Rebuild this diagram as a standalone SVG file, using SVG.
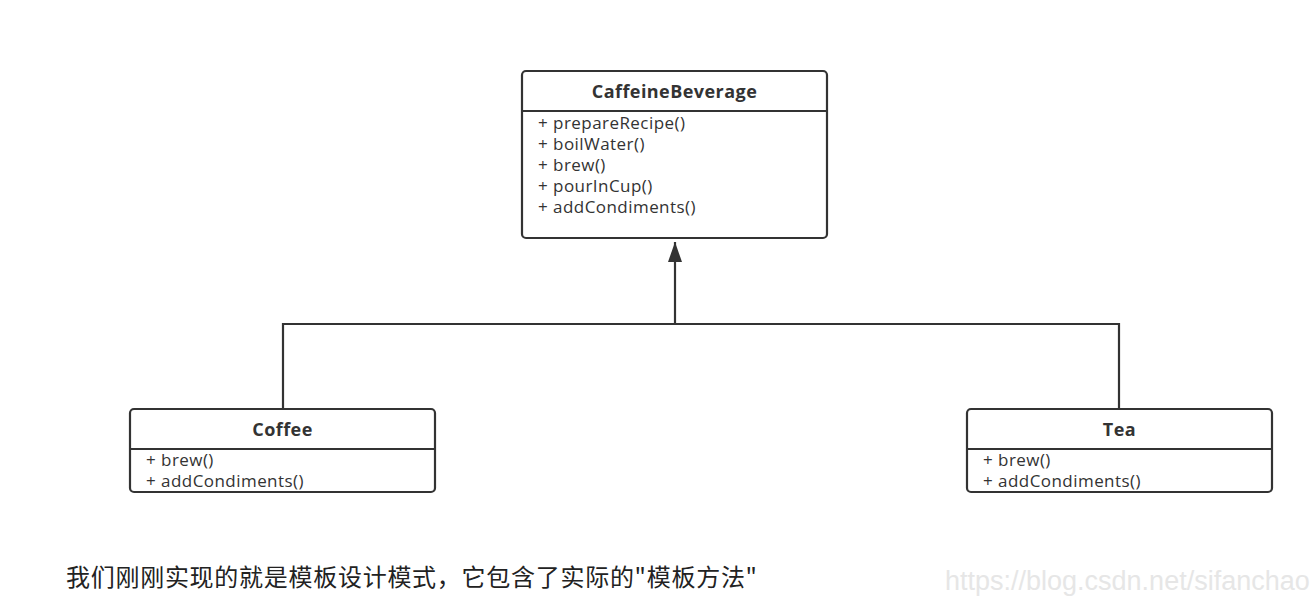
<svg xmlns="http://www.w3.org/2000/svg" width="1315" height="605" viewBox="0 0 1315 605">
<defs>
<style>
.box{fill:#fff;stroke:#333;stroke-width:2.2}
.div{stroke:#333;stroke-width:2}
.title{font-family:"Open Sans","Noto Sans",sans-serif;font-weight:bold;font-size:18px;letter-spacing:0.45px;fill:#333;text-anchor:middle}
.mem{font-family:"Open Sans","Noto Sans",sans-serif;font-size:17px;letter-spacing:0.45px;fill:#333}
.conn{fill:none;stroke:#333;stroke-width:2.2}
</style>
<marker id="arr" markerUnits="userSpaceOnUse" markerWidth="16" markerHeight="22" refX="8" refY="1" orient="0">
<path d="M8,1 L15,21 L1,21 Z" fill="#333"/>
</marker>
</defs>
<rect width="1315" height="605" fill="#fff"/>
<g id="connectors">
<path class="conn" d="M283,409 V324 H1119 V409"/>
<path class="conn" d="M675,324 V242" marker-end="url(#arr)"/>
</g>
<g id="CaffeineBeverage">
<rect class="box" x="522" y="71" width="305" height="167" rx="4"/>
<line class="div" x1="522" y1="111" x2="827" y2="111"/>
<text class="title" x="674.5" y="98">CaffeineBeverage</text>
<text class="mem" x="538" y="129">+ prepareRecipe()</text>
<text class="mem" x="538" y="150">+ boilWater()</text>
<text class="mem" x="538" y="171">+ brew()</text>
<text class="mem" x="538" y="192">+ pourInCup()</text>
<text class="mem" x="538" y="213">+ addCondiments()</text>
</g>
<g id="Coffee">
<rect class="box" x="130" y="409" width="305" height="83" rx="4"/>
<line class="div" x1="130" y1="449" x2="435" y2="449"/>
<text class="title" x="282.5" y="436">Coffee</text>
<text class="mem" x="146" y="466">+ brew()</text>
<text class="mem" x="146" y="487">+ addCondiments()</text>
</g>
<g id="Tea">
<rect class="box" x="967" y="409" width="305" height="83" rx="4"/>
<line class="div" x1="967" y1="449" x2="1272" y2="449"/>
<text class="title" x="1119.5" y="436">Tea</text>
<text class="mem" x="983" y="466">+ brew()</text>
<text class="mem" x="983" y="487">+ addCondiments()</text>
</g>
<text x="66" y="586" font-family="'Noto Sans CJK SC',sans-serif" font-size="24" fill="#222" textLength="691" lengthAdjust="spacing">我们刚刚实现的就是模板设计模式，它包含了实际的"模板方法"</text>
<text x="945" y="590" font-family="'Liberation Sans',sans-serif" font-size="27" fill="#e6e6e6">https://blog.csdn.net/sifanchao</text>
</svg>
